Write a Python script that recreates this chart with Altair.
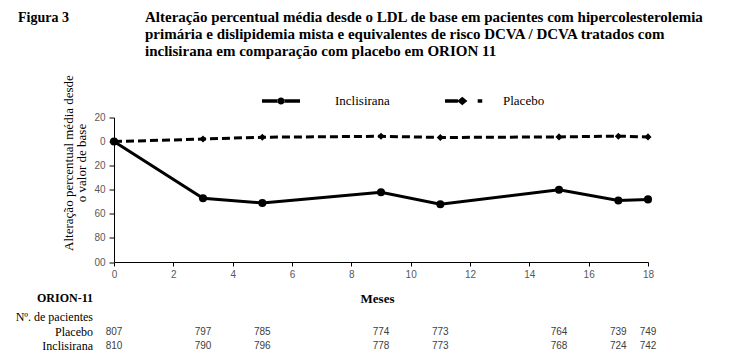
import altair as alt
import pandas as pd

months = [0, 3, 5, 9, 11, 15, 17, 18]
inclisirana = [0, -47, -51, -42, -52, -40, -49, -48]
placebo = [0, 2.1, 3.6, 4.4, 3.4, 3.9, 4.5, 3.9]
n_placebo = [807, 797, 785, 774, 773, 764, 739, 749]
n_inclisirana = [810, 790, 796, 778, 773, 768, 724, 742]
x_ticks = [0, 2, 4, 6, 8, 10, 12, 14, 16, 18]
y_ticks = [-100, -80, -60, -40, -20, 0, 20]

title_lines = [
    "Alteração percentual média desde o LDL de base em pacientes com hipercolesterolemia",
    "primária e dislipidemia mista e equivalentes de risco DCVA / DCVA tratados com",
    "inclisirana em comparação com placebo em ORION 11",
]
y_title = ["Alteração percentual média desde", "o valor de base"]

rows = []
for m, a, b, na, nb in zip(months, inclisirana, placebo, n_inclisirana, n_placebo):
    rows.append({"month": m, "value": a, "series": "Inclisirana", "n": na})
    rows.append({"month": m, "value": b, "series": "Placebo", "n": nb})
df = pd.DataFrame(rows)

SERIF = "Liberation Serif"
SANS = "Liberation Sans"

xscale = alt.Scale(domain=[0, 18], nice=False, zero=False)
yscale = alt.Scale(domain=[-100, 20], nice=False)

x_enc = alt.X(
    "month:Q",
    scale=xscale,
    axis=alt.Axis(
        values=x_ticks, title="Meses", titleFont=SERIF, titleFontWeight="bold",
        titleFontSize=13, titleColor="black", titleX=263, titleY=36,
        titleBaseline="middle", labelFont=SANS, labelFontSize=10,
        labelColor="#595959", domainColor="black", tickColor="black",
        tickSize=4, labelPadding=3, grid=False, labelFlush=False,
    ),
)
y_enc = alt.Y(
    "value:Q",
    scale=yscale,
    axis=alt.Axis(
        values=y_ticks,
        labelExpr="datum.value == -100 ? '00' : (datum.value < 0 ? '' + (-datum.value) : '' + datum.value)",
        title=y_title, titleX=-46, titleY=45, titleAngle=270,
        titleBaseline="middle", titleAlign="center", titleFont=SERIF,
        titleFontWeight="normal", titleFontSize=13, titleLineHeight=13,
        titleColor="black", labelFont=SANS, labelFontSize=10,
        labelColor="#595959", domainColor="black", tickColor="black",
        tickSize=5, labelPadding=4, grid=False,
    ),
)

base = alt.Chart(df).encode(x=x_enc, y=y_enc)

pl_line = base.transform_filter("datum.series == 'Placebo'").mark_line(
    color="black", strokeWidth=3, strokeDash=[8, 4])
in_line = base.transform_filter("datum.series == 'Inclisirana'").mark_line(
    color="black", strokeWidth=3)
pl_pts = base.transform_filter("datum.series == 'Placebo'").mark_point(
    shape="diamond", filled=True, color="black", size=50, opacity=1)
in_pts = base.transform_filter("datum.series == 'Inclisirana'").mark_point(
    shape="circle", filled=True, color="black", size=65, opacity=1)

# patient-count table, positioned on the month scale
tab_x = alt.X("month:Q", scale=xscale)
pl_n = alt.Chart(df).transform_filter("datum.series == 'Placebo'").mark_text(
    font=SANS, fontSize=10, color="#404040", baseline="middle").encode(
    x=tab_x, y=alt.value(214), text="n:Q")
in_n = alt.Chart(df).transform_filter("datum.series == 'Inclisirana'").mark_text(
    font=SANS, fontSize=10, color="#404040", baseline="middle").encode(
    x=tab_x, y=alt.value(228), text="n:Q")

one = pd.DataFrame({"k": [0]})


def label(text, x, y, size=12, weight="normal", align="right", baseline="middle", lh=None):
    kw = dict(text=text, font=SERIF, fontSize=size, fontWeight=weight, color="black",
              align=align, baseline=baseline)
    if lh is not None:
        kw["lineHeight"] = lh
    return alt.Chart(one).mark_text(**kw).encode(x=alt.value(x), y=alt.value(y))


t_orion = label("ORION-11", -21, 180.5, weight="bold")
t_np = label("Nº. de pacientes", -21, 199)
t_pl = label("Placebo", -21, 214)
t_in = label("Inclisirana", -21, 228)
t_fig = label("Figura 3", -96, -99.5, size=14, weight="bold", align="left")
t_title = label(title_lines, 31, -107.5, size=15, weight="bold", align="left",
                baseline="top", lh=17)

path_in = ("M-1,-0.09L-0.17,-0.09L-0.17,0.09L-1,0.09Z "
           "M0.17,-0.09L1,-0.09L1,0.09L0.17,0.09Z "
           "M-0.19,0A0.19,0.19 0 1,0 0.19,0A0.19,0.19 0 1,0 -0.19,0Z")
path_pl = ("M-1,-0.09L-0.32,-0.09L-0.32,0.09L-1,0.09Z "
           "M-0.36,0L-0.09,-0.22L0.18,0L-0.09,0.22Z "
           "M0.72,-0.09L0.96,-0.09L0.96,0.09L0.72,0.09Z")

leg_df = pd.DataFrame({"series": ["Inclisirana", "Placebo"]})


def legend_layer(name, path, lx, offset):
    return alt.Chart(leg_df).transform_filter("false").mark_point(
        filled=True, color="black", opacity=1).encode(
        shape=alt.Shape(
            "series:N",
            scale=alt.Scale(domain=[name], range=[path]),
            legend=alt.Legend(
                orient="none", legendX=lx, legendY=-35.5, direction="horizontal",
                title=None, symbolSize=1444, symbolFillColor="black",
                symbolStrokeWidth=0, symbolOpacity=1, labelFont=SERIF,
                labelFontSize=13, labelColor="black", labelOffset=offset,
                padding=0, labelLimit=200,
            ),
        )
    )


leg_in = legend_layer("Inclisirana", path_in, 148, 35)
leg_pl = legend_layer("Placebo", path_pl, 331, 20)

chart = alt.layer(
    pl_line, in_line, pl_pts, in_pts, pl_n, in_n,
    t_orion, t_np, t_pl, t_in, t_fig, t_title, leg_in, leg_pl,
).resolve_scale(shape="independent").properties(
    width=534, height=144.5,
    padding={"left": 106, "top": 109.5, "right": 82, "bottom": 91},
    autosize=alt.AutoSizeParams(type="none"),
    background="white",
).configure_view(stroke=None)

chart.save("out.html", embed_options={"renderer": "svg", "actions": False})
